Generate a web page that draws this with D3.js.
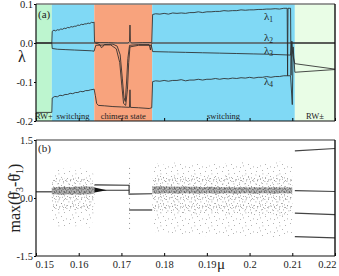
<!DOCTYPE html>
<html><head><meta charset="utf-8">
<script src="https://cdn.jsdelivr.net/npm/d3@7/dist/d3.min.js"></script>
<style>
html,body{margin:0;padding:0;background:#fff;}
svg{display:block;}
svg text{font-family:"Liberation Serif","Times New Roman",Times,"DejaVu Serif",serif !important;fill:#222;}
</style></head><body>
<svg id="c" width="339" height="276"></svg>
<script>
// ---------- data ----------
const muTicks = [0.15,0.16,0.17,0.18,0.19,0.20,0.21,0.22];
const muLabels = ["0.15","0.16","0.17","0.18","0.19","0.2","0.21","0.22"];
const lamTicks = [0.1,0.0,-0.1,-0.2];
const lamLabels = ["0.1","0.0","-0.1","-0.2"];
const dTicks = [1.5,0.0,-1.5];
const dLabels = ["1.5","0.0","-1.5"];

const regionBounds = [0.15,0.1537,0.16365,0.1772,0.2106,0.22];
const regionNames = ["RW+","switching","chimera state","switching","RW\u00b1"];

const lambda1 = [[0.150,0],[0.1537,0],[0.1538,0.030],[0.1542,0.033],[0.1546,0.031],[0.1550,0.034],[0.1554,0.033],[0.1558,0.036],[0.1562,0.035],[0.1566,0.038],[0.1570,0.037],[0.1574,0.040],[0.1578,0.039],[0.1582,0.042],[0.1586,0.041],[0.1590,0.043],[0.1594,0.043],[0.1598,0.046],[0.1602,0.045],[0.1606,0.048],[0.1610,0.047],[0.1614,0.049],[0.1618,0.049],[0.1622,0.051],[0.1626,0.050],[0.1630,0.053],[0.1634,0.052],[0.1636,0.054],[0.1637,0.002],[0.165,0.001],[0.167,0.001],[0.169,0.000],[0.1716,0.000],[0.1719,0.004],[0.1720,0.046],[0.1721,0.004],[0.1723,0.000],[0.175,0.001],[0.1771,0.001],[0.1773,0.073],[0.178,0.075],[0.179,0.074],[0.180,0.076],[0.181,0.074],[0.182,0.077],[0.183,0.076],[0.184,0.077],[0.185,0.076],[0.186,0.078],[0.187,0.078],[0.188,0.080],[0.189,0.078],[0.190,0.080],[0.191,0.080],[0.192,0.081],[0.193,0.081],[0.194,0.083],[0.195,0.082],[0.196,0.083],[0.197,0.083],[0.198,0.085],[0.199,0.084],[0.200,0.085],[0.201,0.085],[0.202,0.086],[0.203,0.086],[0.204,0.087],[0.205,0.087],[0.206,0.088],[0.207,0.087],[0.208,0.089],[0.2088,0.089],[0.2089,-0.084],[0.2090,0.089],[0.2096,0.089],[0.2097,-0.083],[0.2099,0.0],[0.22,0.0]];
const lambda2 = [[0.150,0],[0.1637,0],[0.1645,-0.002],[0.1650,-0.005],[0.1653,-0.012],[0.1656,-0.010],[0.1660,-0.004],[0.1680,-0.003],[0.1690,-0.008],[0.1697,-0.03],[0.1702,-0.09],[0.1706,-0.14],[0.1709,-0.150],[0.1712,-0.10],[0.1715,-0.04],[0.1719,-0.006],[0.174,-0.004],[0.1765,-0.004],[0.1768,-0.018],[0.1770,-0.004],[0.1772,0],[0.22,0]];
const lambda3 = [[0.150,0],[0.1537,0],[0.1538,-0.014],[0.155,-0.016],[0.157,-0.017],[0.159,-0.018],[0.161,-0.019],[0.163,-0.020],[0.1636,-0.021],[0.1640,-0.006],[0.1660,-0.005],[0.1675,-0.005],[0.1688,-0.015],[0.1696,-0.05],[0.1701,-0.11],[0.1705,-0.155],[0.1710,-0.16],[0.1714,-0.12],[0.1717,-0.05],[0.1720,-0.01],[0.1740,-0.006],[0.1770,-0.006],[0.1773,-0.022],[0.181,-0.023],[0.185,-0.024],[0.189,-0.025],[0.193,-0.026],[0.197,-0.027],[0.201,-0.028],[0.205,-0.029],[0.2096,-0.031],[0.2099,0.005],[0.2101,-0.03],[0.2106,-0.053],[0.22,-0.067]];
const lambda4 = [[0.150,-0.178],[0.1537,-0.178],[0.1538,-0.141],[0.1544,-0.137],[0.1550,-0.138],[0.1556,-0.134],[0.1562,-0.135],[0.1568,-0.132],[0.1574,-0.132],[0.1580,-0.129],[0.1586,-0.130],[0.1592,-0.127],[0.1598,-0.127],[0.1604,-0.124],[0.1610,-0.125],[0.1616,-0.122],[0.1622,-0.122],[0.1628,-0.120],[0.1634,-0.119],[0.1636,-0.118],[0.1639,-0.135],[0.1642,-0.155],[0.1646,-0.160],[0.166,-0.161],[0.168,-0.163],[0.170,-0.164],[0.1719,-0.165],[0.1720,-0.12],[0.1721,-0.165],[0.174,-0.166],[0.1765,-0.168],[0.1771,-0.166],[0.1773,-0.099],[0.178,-0.097],[0.179,-0.098],[0.180,-0.096],[0.181,-0.098],[0.182,-0.096],[0.183,-0.096],[0.184,-0.094],[0.185,-0.097],[0.186,-0.095],[0.187,-0.095],[0.188,-0.093],[0.189,-0.095],[0.190,-0.093],[0.191,-0.093],[0.192,-0.091],[0.193,-0.093],[0.194,-0.091],[0.195,-0.092],[0.196,-0.090],[0.197,-0.091],[0.198,-0.089],[0.199,-0.090],[0.200,-0.088],[0.201,-0.090],[0.202,-0.088],[0.203,-0.088],[0.204,-0.086],[0.205,-0.088],[0.206,-0.086],[0.207,-0.086],[0.208,-0.084],[0.2096,-0.084],[0.2100,-0.158],[0.2102,-0.01],[0.2106,-0.075],[0.22,-0.068]];

// panel (b)
const rwPlusLine = [[0.150,0.16],[0.1537,0.16]];
const cloudAMu = [0.1537,0.1542,0.1548,0.1554,0.1560,0.1566,0.1572,0.1578,0.1584,0.1590,0.1596,0.1602,0.1608,0.1614,0.1620,0.1626,0.1632,0.1637];
const cloudAOuterHi = [0.55,0.72,0.65,0.80,0.70,0.78,0.68,0.82,0.72,0.76,0.66,0.80,0.70,0.78,0.72,0.75,0.66,0.60];
const cloudAOuterLo = [-0.45,-0.62,-0.70,-0.78,-0.66,-0.80,-0.72,-0.76,-0.62,-0.80,-0.70,-0.78,-0.66,-0.74,-0.70,-0.78,-0.62,-0.50];
const cloudAInnerHi = [0.40,0.48,0.52,0.46,0.55,0.50,0.56,0.48,0.54,0.50,0.56,0.48,0.52,0.50,0.55,0.48,0.45,0.42];
const cloudAInnerLo = [-0.15,-0.25,-0.32,-0.28,-0.36,-0.30,-0.34,-0.26,-0.35,-0.30,-0.36,-0.28,-0.32,-0.30,-0.34,-0.28,-0.24,-0.20];
const cloudACoreHi = [0.26,0.28,0.27,0.29,0.28,0.30,0.28,0.29,0.28,0.30,0.29,0.30,0.29,0.31,0.30,0.30,0.29,0.28];
const cloudACoreLo = [0.10,0.09,0.10,0.08,0.09,0.08,0.10,0.09,0.08,0.10,0.09,0.08,0.10,0.09,0.10,0.09,0.11,0.12];
const wedge = [[0.1637,0.14,0.27],[0.1666,0.20,0.20]];
const twoUpper = [[0.1637,0.34],[0.1718,0.33],[0.1718,0.10],[0.1772,0.11]];
const twoLower = [[0.1637,0.20],[0.1718,0.20]];
const midLower = [[0.1718,-0.31],[0.1772,-0.31]];
const transition = [0.1719,-0.80,0.85];
const cloudBMu = [0.1772,0.1787,0.1802,0.1817,0.1832,0.1847,0.1862,0.1877,0.1892,0.1907,0.1922,0.1937,0.1952,0.1967,0.1982,0.1997,0.2012,0.2027,0.2042,0.2057,0.2072,0.2087,0.2100];
const cloudBOuterHi = [0.80,0.92,0.85,0.96,0.88,0.93,0.86,0.95,0.90,0.84,0.94,0.88,0.92,0.85,0.96,0.89,0.93,0.86,0.95,0.90,0.96,0.88,0.90];
const cloudBOuterLo = [-0.80,-0.95,-0.88,-0.98,-0.90,-1.00,-0.92,-0.96,-1.02,-0.90,-0.98,-0.93,-1.00,-0.95,-0.92,-1.02,-0.96,-1.00,-0.94,-1.03,-0.98,-1.02,-0.95];
const cloudBInnerHi = [0.50,0.58,0.55,0.62,0.56,0.60,0.54,0.62,0.58,0.55,0.60,0.57,0.62,0.55,0.60,0.58,0.62,0.56,0.60,0.58,0.62,0.58,0.55];
const cloudBInnerLo = [-0.30,-0.38,-0.35,-0.42,-0.36,-0.40,-0.38,-0.44,-0.40,-0.36,-0.42,-0.38,-0.44,-0.40,-0.42,-0.38,-0.45,-0.40,-0.44,-0.42,-0.46,-0.44,-0.40];
const cloudBCoreHi = [0.30,0.31,0.30,0.30,0.29,0.30,0.29,0.29,0.28,0.29,0.28,0.28,0.28,0.27,0.28,0.27,0.28,0.27,0.27,0.28,0.27,0.27,0.27];
const cloudBCoreLo = [0.12,0.11,0.12,0.12,0.11,0.12,0.12,0.11,0.12,0.12,0.11,0.12,0.12,0.11,0.12,0.12,0.11,0.12,0.12,0.11,0.12,0.12,0.12];
const rwPmLines = [
  [[0.2106,1.22],[0.22,1.28]],
  [[0.2106,0.19],[0.22,0.17]],
  [[0.2106,-0.39],[0.22,-0.43]],
  [[0.2106,-1.00],[0.22,-1.03]]
];

// ---------- drawing ----------
const svg = d3.select("#c");
const L=36,R=335;
const x = d3.scaleLinear().domain([0.15,0.22]).range([L,R]);
const yT = d3.scaleLinear().domain([-0.2,0.1]).range([121,4]);
const yB = d3.scaleLinear().domain([-1.5,1.5]).range([256,140]);
const regionFill = ["#bdf5cf","#80d9f5","#f8a37d","#80d9f5","#e9fde6"];

const defs = svg.append("defs");
function pat(id,w,h,pts,col,s){
  const p = defs.append("pattern").attr("id",id).attr("width",w).attr("height",h).attr("patternUnits","userSpaceOnUse");
  pts.forEach(q=>p.append("rect").attr("x",q[0]).attr("y",q[1]).attr("width",s).attr("height",s).attr("fill",col));
}
pat("sparse",17,13,[[1,2],[7,1],[13,4],[4,6.5],[10,8],[2,11],[15,10.5],[7.5,4.5],[12,12],[5,9.5]],"#8a8a8a",0.8);
pat("medium",11,9,[[0.5,1],[4,0.5],[8,2.5],[2.5,3.5],[6,5],[1,7],[9,6.5],[4.5,8],[10,0.2],[7,7.8]],"#7a7a7a",0.8);
pat("dense",5,4,[[0.3,0.4],[2.6,1.2],[1.2,2.6],[3.8,3.0],[4.2,0.2]],"#444",0.9);

// panel (a) backgrounds
regionNames.forEach((n,i)=>{
  svg.append("rect").attr("x",x(regionBounds[i])).attr("y",yT(0.1))
    .attr("width",x(regionBounds[i+1])-x(regionBounds[i])).attr("height",yT(-0.2)-yT(0.1))
    .attr("fill",regionFill[i]);
});
svg.append("line").attr("x1",L).attr("x2",R).attr("y1",yT(0)).attr("y2",yT(0))
  .attr("stroke","#8c8c8c").attr("stroke-width",1);

const lineT = d3.line().x(d=>x(d[0])).y(d=>yT(d[1]));
[lambda1,lambda2,lambda3,lambda4].forEach(s=>{
  svg.append("path").attr("d",lineT(s)).attr("fill","none").attr("stroke","#2b2b2b").attr("stroke-width",0.85);
});

regionNames.forEach((n,i)=>{
  const cx = (x(regionBounds[i])+x(regionBounds[i+1]))/2;
  svg.append("text").attr("x",cx).attr("y",119).attr("text-anchor","middle")
    .style("font-size","8.5px").text(n);
});

const lamLabY = [20,41,54,85];
["1","2","3","4"].forEach((s,i)=>{
  const t = svg.append("text").attr("x",264).attr("y",lamLabY[i]).style("font-size","11px");
  t.append("tspan").text("\u03bb");
  t.append("tspan").style("font-size","7.5px").attr("dy",2).text(s);
});

const axL = svg.append("g").attr("transform",`translate(${L},0)`)
  .call(d3.axisLeft(yT).tickValues(lamTicks).tickFormat((d,i)=>lamLabels[i]).tickSizeInner(2).tickSizeOuter(0).tickPadding(1));
axL.select(".domain").remove();
axL.selectAll("text").style("font-size","10.5px");
const axTB = svg.append("g").attr("transform",`translate(0,${yT(-0.2)})`)
  .call(d3.axisBottom(x).tickValues(muTicks).tickFormat("").tickSizeInner(-3).tickSizeOuter(0));
axTB.select(".domain").remove();

function frame(y0,y1){
  svg.append("line").attr("x1",L).attr("x2",R).attr("y1",y0).attr("y2",y0).attr("stroke","#7a7a7a").attr("stroke-width",1.6);
  svg.append("line").attr("x1",L).attr("x2",R).attr("y1",y1).attr("y2",y1).attr("stroke","#111").attr("stroke-width",1.2);
  svg.append("line").attr("x1",L).attr("x2",L).attr("y1",y0).attr("y2",y1).attr("stroke","#111").attr("stroke-width",1.2);
  svg.append("line").attr("x1",R).attr("x2",R).attr("y1",y0).attr("y2",y1).attr("stroke","#111").attr("stroke-width",1.4);
}
frame(yT(0.1),yT(-0.2));

svg.append("text").attr("x",38).attr("y",18).style("font-size","11px").text("(a)");
svg.append("text").attr("x",22).attr("y",62).attr("text-anchor","middle").style("font-size","16px").text("\u03bb");

// panel (b)
function cloud(mu,lo,hi,fill,op){
  const a = d3.area().x((d,i)=>x(mu[i])).y0((d,i)=>yB(lo[i])).y1((d,i)=>yB(hi[i]));
  svg.append("path").attr("d",a(mu)).attr("fill",fill).attr("opacity",op);
}
cloud(cloudAMu,cloudAOuterLo,cloudAOuterHi,"url(#sparse)",1);
cloud(cloudAMu,cloudAInnerLo,cloudAInnerHi,"url(#medium)",1);
cloud(cloudAMu,cloudACoreLo,cloudACoreHi,"#555",0.45);
cloud(cloudAMu,cloudACoreLo,cloudACoreHi,"url(#dense)",1);
cloud(cloudBMu,cloudBOuterLo,cloudBOuterHi,"url(#sparse)",1);
cloud(cloudBMu,cloudBInnerLo,cloudBInnerHi,"url(#medium)",1);
cloud(cloudBMu,cloudBCoreLo,cloudBCoreHi,"#555",0.4);
cloud(cloudBMu,cloudBCoreLo,cloudBCoreHi,"url(#dense)",1);

const lineB = d3.line().x(d=>x(d[0])).y(d=>yB(d[1]));
[rwPlusLine,twoUpper,twoLower,midLower].forEach(s=>{
  svg.append("path").attr("d",lineB(s)).attr("fill","none").attr("stroke","#333").attr("stroke-width",1.2);
});
rwPmLines.forEach(s=>{
  svg.append("path").attr("d",lineB(s)).attr("fill","none").attr("stroke","#444").attr("stroke-width",1.1);
});
const wa = d3.area().x(d=>x(d[0])).y0(d=>yB(d[1])).y1(d=>yB(d[2]));
svg.append("path").attr("d",wa(wedge)).attr("fill","#111");
svg.append("line").attr("x1",x(transition[0])).attr("x2",x(transition[0]))
  .attr("y1",yB(transition[1])).attr("y2",yB(transition[2]))
  .attr("stroke","#888").attr("stroke-width",0.9).attr("stroke-dasharray","1,4");

const axBL = svg.append("g").attr("transform",`translate(${L},0)`)
  .call(d3.axisLeft(yB).tickValues(dTicks).tickFormat((d,i)=>dLabels[i]).tickSizeInner(2).tickSizeOuter(0).tickPadding(1));
axBL.select(".domain").remove();
axBL.selectAll("text").style("font-size","10.5px");

const axBB = svg.append("g").attr("transform",`translate(0,${yB(-1.5)})`)
  .call(d3.axisBottom(x).tickValues(muTicks).tickFormat((d,i)=>muLabels[i]).tickSizeInner(-3).tickSizeOuter(0));
axBB.select(".domain").remove();
axBB.selectAll("text").style("font-size","10.5px").attr("dy",null).attr("y",12);
axBB.selectAll(".tick").filter((d,i)=>i===0).select("text").attr("text-anchor","start").attr("x",-1);
axBB.selectAll(".tick").filter((d,i)=>i===muTicks.length-1).select("text").attr("text-anchor","end").attr("x",1);

frame(yB(1.5),yB(-1.5));

svg.append("text").attr("x",38).attr("y",152).style("font-size","11px").text("(b)");
svg.append("text").attr("x",221).attr("y",269).attr("text-anchor","middle").style("font-size","15px").text("\u03bc");

const yl = svg.append("text").attr("transform","translate(20,198) rotate(-90)").attr("text-anchor","middle").style("font-size","16px");
yl.append("tspan").text("max(\u03b8\u0307");
yl.append("tspan").style("font-size","10px").attr("dy",3).text("3");
yl.append("tspan").attr("dy",-3).text("-\u03b8\u0307");
yl.append("tspan").style("font-size","10px").attr("dy",3).text("1");
yl.append("tspan").attr("dy",-3).text(")");
</script>
</body></html>
